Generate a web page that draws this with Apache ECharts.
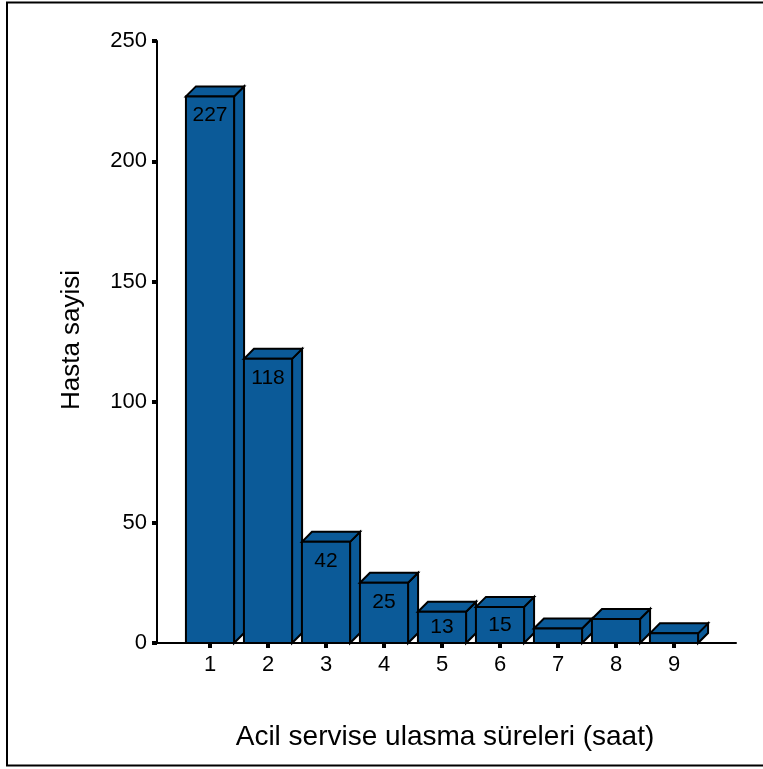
<!DOCTYPE html>
<html>
<head>
<meta charset="utf-8">
<script src="https://cdn.jsdelivr.net/npm/echarts@6/dist/echarts.min.js"></script>
<style>
  html, body { margin: 0; padding: 0; background: #fff; }
  #chart { width: 763px; height: 769px; }
</style>
</head>
<body>
<div id="chart"></div>
<script>
// Arrival time at the emergency department (hours) and patient counts
const hours = [1, 2, 3, 4, 5, 6, 7, 8, 9];
const patients = [227, 118, 42, 25, 13, 15, 6, 10, 4];
const yTitle = 'Hasta sayisi';
const xTitle = 'Acil servise ulasma süreleri (saat)';

const FONT = '"Liberation Sans", Arial, sans-serif';
const BAR_COLOR = '#0b5a98';
const DEPTH_X = 10;
const DEPTH_Y = 10;
const LABEL_MIN = 12; // short bars carry no value label

const chart = echarts.init(document.getElementById('chart'), null, { renderer: 'canvas' });

function renderBar(params, api) {
  const x = api.value(0);
  const v = api.value(1);
  const base = api.coord([x, 0]);
  const top = api.coord([x, v]);
  const w = api.size([1, 0])[0] * 0.83;
  const l = base[0] - w / 2;
  const r = base[0] + w / 2;
  const t = top[1];
  const b = base[1];
  const stroke = { stroke: '#000', lineWidth: 2, lineJoin: 'miter' };
  const children = [
    {
      type: 'polygon',
      shape: { points: [[r, t], [r + DEPTH_X, t - DEPTH_Y], [r + DEPTH_X, b - DEPTH_Y], [r, b]] },
      style: Object.assign({ fill: BAR_COLOR }, stroke)
    },
    {
      type: 'polygon',
      shape: { points: [[l, t], [l + DEPTH_X, t - DEPTH_Y], [r + DEPTH_X, t - DEPTH_Y], [r, t]] },
      style: Object.assign({ fill: BAR_COLOR }, stroke)
    },
    {
      type: 'rect',
      shape: { x: l, y: t, width: w, height: b - t },
      style: Object.assign({ fill: BAR_COLOR }, stroke)
    }
  ];
  if (v > LABEL_MIN) {
    children.push({
      type: 'text',
      style: {
        text: String(v),
        x: base[0],
        y: Math.min(t + 19, (t + b) / 2),
        align: 'center',
        verticalAlign: 'middle',
        fontSize: 21,
        fontFamily: FONT,
        fill: '#000'
      }
    });
  }
  return { type: 'group', children: children };
}

const option = {
  animation: false,
  backgroundColor: '#fff',
  grid: { left: 157, right: 27, top: 41, bottom: 126, containLabel: false },
  xAxis: {
    type: 'value',
    min: 0.086,
    max: 10.069,
    splitLine: { show: false },
    axisLine: { show: true, onZero: false, lineStyle: { color: '#000', width: 2 } },
    axisTick: {
      show: true, customValues: hours, length: 5, inside: false,
      lineStyle: { color: '#000', width: 4 }
    },
    axisLabel: {
      customValues: hours, margin: 11, fontSize: 22, fontFamily: FONT, color: '#000'
    }
  },
  yAxis: {
    type: 'value',
    min: 0,
    max: 250,
    interval: 50,
    splitLine: { show: false },
    axisLine: { show: true, lineStyle: { color: '#000', width: 2 } },
    axisTick: { show: true, length: 5, lineStyle: { color: '#000', width: 4 } },
    axisLabel: { margin: 10, fontSize: 22, fontFamily: FONT, color: '#000' }
  },
  series: [{
    type: 'custom',
    renderItem: renderBar,
    data: hours.map((h, i) => [h, patients[i]]),
    z: 1
  }],
  graphic: [
    {
      type: 'rect',
      shape: { x: 7, y: 2.5, width: 800, height: 763 },
      style: { fill: 'none', stroke: '#000', lineWidth: 2 },
      silent: true
    },
    {
      type: 'text',
      x: 72, y: 340,
      rotation: Math.PI / 2,
      style: {
        text: yTitle, fontSize: 26, fontFamily: FONT, fill: '#000',
        align: 'center', verticalAlign: 'middle'
      }
    },
    {
      type: 'text',
      x: 445, y: 737,
      style: {
        text: xTitle, fontSize: 28, fontFamily: FONT, fill: '#000',
        align: 'center', verticalAlign: 'middle'
      }
    }
  ]
};

chart.setOption(option);
</script>
</body>
</html>
